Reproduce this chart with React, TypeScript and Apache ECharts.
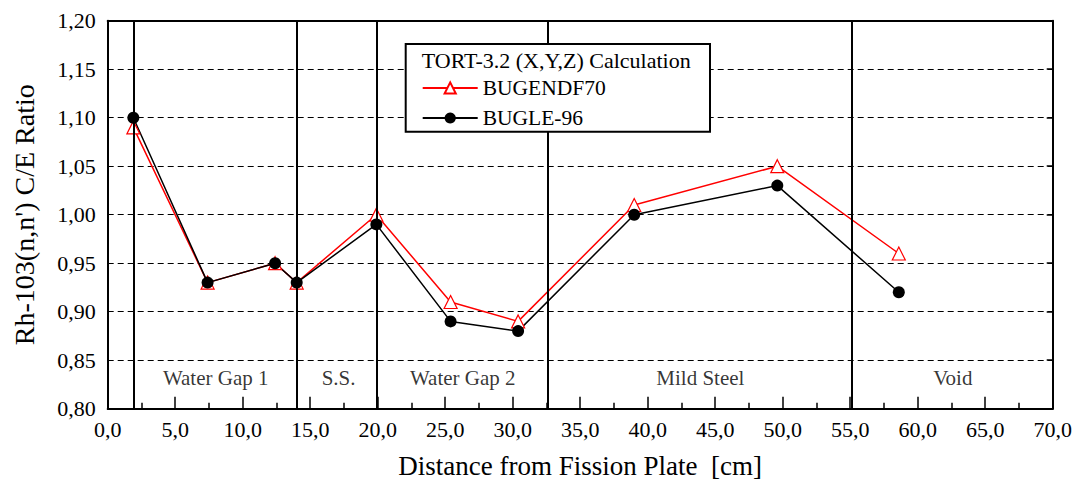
import React, { useEffect, useRef } from "react";
import * as echarts from "echarts";

const distance = [1.9, 7.4, 12.4, 14.0, 19.9, 25.4, 30.4, 39.0, 49.6, 58.6];
const bugendf70 = [1.09, 0.93, 0.95, 0.93, 1.0, 0.91, 0.89, 1.01, 1.05, 0.96];
const bugle96 = [1.1, 0.93, 0.95, 0.93, 0.99, 0.89, 0.88, 1.0, 1.03, 0.92];
const regionBounds = [1.9, 14.0, 19.9, 32.6, 55.1];
const regionNames = ["Water Gap 1", "S.S.", "Water Gap 2", "Mild Steel", "Void"];
const regionCenters = [8.0, 17.1, 26.3, 43.9, 62.6];
const regionLabelY = 0.832;
const legendTitle = "TORT-3.2 (X,Y,Z) Calculation";
const seriesNames = ["BUGENDF70", "BUGLE-96"];
const xMin = 0, xMax = 70, xStep = 5;
const yMin = 0.8, yMax = 1.2, yStep = 0.05;

const FONT = "'Liberation Serif', 'Times New Roman', Times, serif";

export default function App() {
  const ref = useRef<HTMLDivElement>(null);
  useEffect(() => {
    document.body.style.margin = "0";
    const chart = echarts.init(ref.current!, null, { renderer: "svg" });
    const fmtY = (v: number) => v.toFixed(2).replace(".", ",");
    const fmtX = (v: number) => v.toFixed(1).replace(".", ",");
    const option: any = {
      animation: false,
      backgroundColor: "#fff",
      textStyle: { fontFamily: FONT, color: "#000" },
      grid: { left: 107.7, right: 24.3, top: 20.7, bottom: 78.3 },
      xAxis: [
        {
          type: "value",
          min: xMin,
          max: xMax,
          interval: xStep,
          position: "bottom",
          name: "Distance from Fission Plate  [cm]",
          nameLocation: "middle",
          nameGap: 44,
          nameTextStyle: { fontFamily: FONT, fontSize: 27, color: "#000" },
          axisLine: { show: true, onZero: false, lineStyle: { color: "#000", width: 2 } },
          axisTick: { show: true, inside: true, length: 12, lineStyle: { color: "#000", width: 1.5 } },
          minorTick: { show: true, splitNumber: 2, length: 6, lineStyle: { color: "#000", width: 1.5 } },
          axisLabel: { formatter: fmtX, fontFamily: FONT, fontSize: 22, color: "#000", margin: 10 },
          splitLine: { show: false },
        },
        {
          type: "value",
          min: xMin,
          max: xMax,
          interval: xStep,
          position: "top",
          axisLine: { show: true, onZero: false, lineStyle: { color: "#000", width: 2 } },
          axisTick: { show: false },
          axisLabel: { show: false },
          splitLine: { show: false },
        },
      ],
      yAxis: [
        {
          type: "value",
          min: yMin,
          max: yMax,
          interval: yStep,
          position: "left",
          name: "Rh-103(n,n') C/E Ratio",
          nameLocation: "middle",
          nameGap: 69,
          nameTextStyle: { fontFamily: FONT, fontSize: 28, color: "#000", padding: [0, 0, 0, 0] },
          axisLine: { show: true, onZero: false, lineStyle: { color: "#000", width: 2 } },
          axisTick: { show: false },
          axisLabel: { formatter: fmtY, fontFamily: FONT, fontSize: 22, color: "#000", margin: 12 },
          splitLine: { show: true, lineStyle: { color: "#000", width: 1, type: [6, 4] } },
        },
        {
          type: "value",
          min: yMin,
          max: yMax,
          interval: yStep,
          position: "right",
          axisLine: { show: true, onZero: false, lineStyle: { color: "#000", width: 2 } },
          axisTick: { show: true, inside: true, length: 6, lineStyle: { color: "#000", width: 1.5 } },
          axisLabel: { show: false },
          splitLine: { show: false },
        },
      ],
      legend: {
        data: seriesNames,
        orient: "vertical",
        left: 421.7,
        top: 77,
        padding: 0,
        itemWidth: 55,
        itemHeight: 14,
        itemGap: 8,
        z: 102,
        textStyle: { fontFamily: FONT, fontSize: 21.5, color: "#000", lineHeight: 22 },
      },
      graphic: [
        {
          type: "rect",
          z: 100,
          shape: { x: 405.7, y: 44, width: 304.3, height: 87.7 },
          style: { fill: "#fff", stroke: "#000", lineWidth: 2 },
        },
        {
          type: "text",
          z: 101,
          x: 421.7,
          y: 60,
          style: {
            text: legendTitle,
            font: "22px " + FONT,
            fill: "#000",
            verticalAlign: "middle",
            align: "left",
          },
        },
      ],
      series: [
        {
          type: "scatter",
          name: "regions",
          symbolSize: 0,
          silent: true,
          data: regionCenters.map((x, i) => ({ value: [x, regionLabelY], name: regionNames[i] })),
          label: {
            show: true,
            position: "inside",
            formatter: (p: any) => p.name,
            fontFamily: FONT,
            fontSize: 21,
            color: "#000",
          },
          markLine: {
            silent: true,
            symbol: "none",
            label: { show: false },
            lineStyle: { color: "#000", width: 2, type: "solid" },
            data: regionBounds.map((x) => ({ xAxis: x })),
          },
        },
        {
          type: "line",
          name: seriesNames[0],
          data: distance.map((x, i) => [x, bugendf70[i]]),
          symbol: "triangle",
          symbolSize: 13,
          lineStyle: { color: "#ff0000", width: 1.5 },
          itemStyle: { color: "#fff", borderColor: "#ff0000", borderWidth: 1.2 },
          color: "#ff0000",
        },
        {
          type: "line",
          name: seriesNames[1],
          data: distance.map((x, i) => [x, bugle96[i]]),
          symbol: "circle",
          symbolSize: 12,
          lineStyle: { color: "#000", width: 1.5 },
          itemStyle: { color: "#000", borderColor: "#000", borderWidth: 0 },
          color: "#000",
        },
      ],
    };
    chart.setOption(option);
    return () => chart.dispose();
  }, []);
  return <div ref={ref} style={{ width: 1077, height: 487 }} />;
}
